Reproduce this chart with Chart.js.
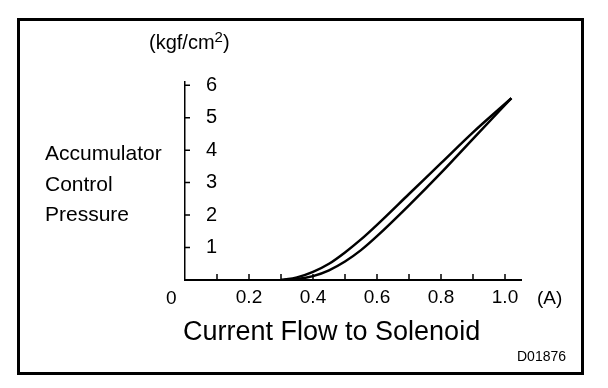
<!DOCTYPE html>
<html>
<head>
<meta charset="utf-8">
<script src="https://cdn.jsdelivr.net/npm/chart.js@4.4.1/dist/chart.umd.min.js"></script>
<style>
  html, body { margin: 0; padding: 0; background: #fff; }
  #wrap { position: relative; width: 608px; height: 388px; font-family: "Liberation Sans", Arial, sans-serif; color: #000; }
  #frame { position: absolute; left: 17px; top: 18px; width: 561px; height: 351px; border: 3px solid #000; }
  #chart { position: absolute; left: 0; top: 0; }
  .lbl { position: absolute; white-space: nowrap; line-height: 1; }
  .lbl sup { font-size: 0.75em; vertical-align: 0.45em; line-height: 0; }
</style>
</head>
<body>
<div id="wrap">
  <div id="frame"></div>
  <canvas id="chart" width="608" height="388"></canvas>
  <div class="lbl" style="left:149px; top:32px; font-size:20px;">(kgf/cm<sup>2</sup>)</div>
  <div class="lbl" style="left:45px; top:142px; font-size:21px;">Accumulator</div>
  <div class="lbl" style="left:45px; top:173px; font-size:21px;">Control</div>
  <div class="lbl" style="left:45px; top:203px; font-size:21px;">Pressure</div>
  <div class="lbl" style="left:166px; top:288px; font-size:19px;">0</div>
  <div class="lbl" style="left:537px; top:288px; font-size:19px;">(A)</div>
  <div class="lbl" style="left:183px; top:318px; font-size:27px;">Current Flow to Solenoid</div>
  <div class="lbl" style="left:517px; top:349px; font-size:14px;">D01876</div>
</div>
<script>
// current (A) and accumulator control pressure (kgf/cm2), two branches of the hysteresis loop
const currentA = [0.3, 0.35, 0.4, 0.45, 0.5, 0.55, 0.6, 0.7, 0.8, 0.9, 1.02];
const pressureUp = [0, 0.08, 0.25, 0.5, 0.85, 1.25, 1.7, 2.65, 3.6, 4.55, 5.6];
const pressureDown = [0, 0.03, 0.12, 0.3, 0.57, 0.92, 1.35, 2.3, 3.3, 4.35, 5.6];

const xTickValues = [0.2, 0.4, 0.6, 0.8, 1.0];
const xTickLabels = ['0.2', '0.4', '0.6', '0.8', '1.0'];
const xMinorTicks = [0.1, 0.2, 0.3, 0.4, 0.5, 0.6, 0.7, 0.8, 0.9, 1.0];
const yTickValues = [1, 2, 3, 4, 5, 6];

const toPoints = (ys) => ys.map((y, i) => ({ x: currentA[i], y }));

// small tick marks pointing into the plot, like the original drawing
const innerTicks = {
  id: 'innerTicks',
  afterDraw(chart) {
    const { ctx, scales: { x, y } } = chart;
    ctx.save();
    ctx.strokeStyle = '#000';
    ctx.lineWidth = 1.5;
    ctx.beginPath();
    xMinorTicks.forEach((v) => {
      const px = x.getPixelForValue(v);
      ctx.moveTo(px, y.bottom);
      ctx.lineTo(px, y.bottom - 6);
    });
    yTickValues.forEach((v) => {
      const py = y.getPixelForValue(v);
      ctx.moveTo(x.left, py);
      ctx.lineTo(x.left + 5, py);
    });
    ctx.stroke();
    ctx.restore();
  },
};

const lineStyle = {
  borderColor: '#000',
  borderWidth: 2.5,
  pointRadius: 0,
  fill: false,
  cubicInterpolationMode: 'monotone',
};

new Chart(document.getElementById('chart'), {
  type: 'line',
  data: {
    datasets: [
      { label: 'Increasing', data: toPoints(pressureUp), ...lineStyle },
      { label: 'Decreasing', data: toPoints(pressureDown), ...lineStyle },
    ],
  },
  options: {
    responsive: false,
    devicePixelRatio: 1,
    animation: false,
    layout: { padding: { left: 185, right: 87, top: 82, bottom: 68 } },
    plugins: { legend: { display: false }, tooltip: { enabled: false } },
    scales: {
      x: {
        type: 'linear',
        min: 0,
        max: 1.05,
        // fixed height so tick labels are not clipped
        afterFit: (s) => { s.height = 40; },
        afterBuildTicks: (s) => { s.ticks = xTickValues.map((v) => ({ value: v })); },
        grid: { display: false, drawTicks: false },
        border: { display: true, color: '#000', width: 2 },
        ticks: {
          color: '#000',
          padding: 6,
          maxRotation: 0,
          autoSkip: false,
          font: { family: '"Liberation Sans", Arial, sans-serif', size: 19 },
          callback: (v, i) => xTickLabels[i],
        },
      },
      y: {
        type: 'linear',
        min: 0,
        max: 6.1,
        afterFit: (s) => { s.width = 0; },
        afterBuildTicks: (s) => { s.ticks = yTickValues.map((v) => ({ value: v })); },
        grid: { display: false, drawTicks: false },
        border: { display: true, color: '#000', width: 1.5 },
        ticks: {
          color: '#000',
          mirror: true,
          padding: 21,
          font: { family: '"Liberation Sans", Arial, sans-serif', size: 20 },
        },
      },
    },
  },
  plugins: [innerTicks],
});
</script>
</body>
</html>
